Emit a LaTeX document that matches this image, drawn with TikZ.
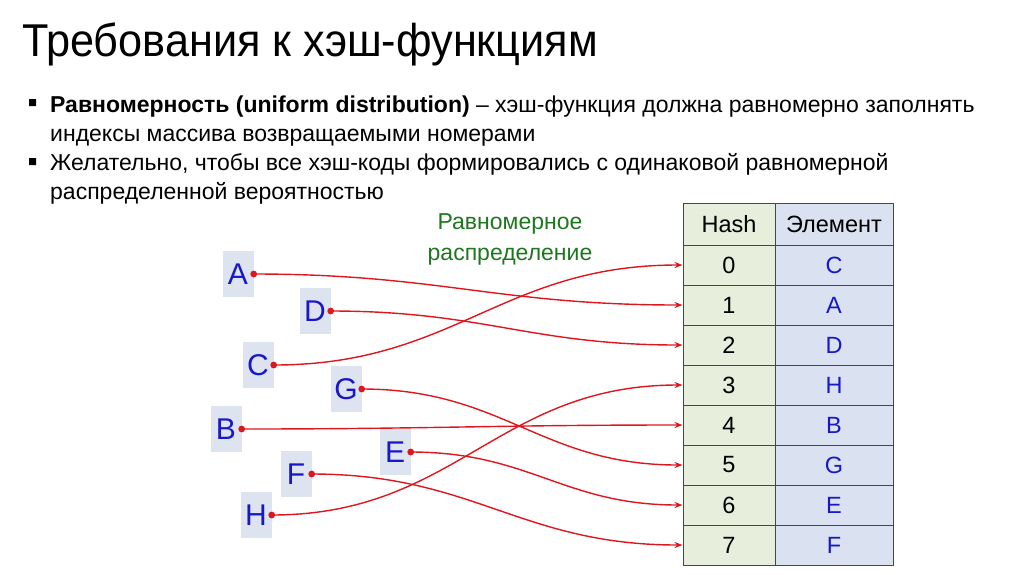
\documentclass[tikz,border=0pt]{standalone}
\usepackage{fontspec}
\setmainfont{Liberation Sans}
\newfontfamily\titlefont[FakeStretch=0.94]{Liberation Sans}
\usetikzlibrary{arrows.meta,positioning}
\definecolor{lnk}{RGB}{222,22,30}
\definecolor{lbl}{RGB}{24,24,200}
\definecolor{lblbg}{RGB}{221,227,239}
\definecolor{grn}{RGB}{30,118,30}
\definecolor{hashbg}{RGB}{231,239,220}
\definecolor{elbg}{RGB}{218,226,242}
\definecolor{grid}{RGB}{70,70,70}
\begin{document}
\begin{tikzpicture}[x=1pt,y=-1pt,line join=round,line cap=round,
	txt/.style={anchor=base west,inner sep=0pt,font=\fontsize{23}{28}\selectfont},
	letter/.style={fill=lblbg,text=lbl,minimum width=31pt,minimum height=46pt,inner sep=0pt,font=\fontsize{30}{30}\selectfont},
	cell/.style={draw=grid,line width=1pt,minimum height=40pt,inner sep=0pt,font=\fontsize{23.5}{23.5}\selectfont},
	link/.style={draw=lnk,line width=1.4pt,-{Stealth[length=8pt,width=6pt]}}]
	\useasboundingbox (0,0) rectangle (1024,574);
	% title and bullets
	\node[anchor=base west,inner sep=0pt,font=\titlefont\fontsize{46}{46}\selectfont] (title) at (22,56) {Требования к хэш-функциям};
	\fill (29,99) rectangle (36,106) (29,158) rectangle (36,165);
	\node[txt] (l1) at (50,112) {\textbf{Равномерность (uniform distribution)} – хэш-функция должна равномерно заполнять};
	\node[txt] (l2) at (50,141) {индексы массива возвращаемыми номерами};
	\node[txt] (l3) at (50,170) {Желательно, чтобы все хэш-коды формировались с одинаковой равномерной};
	\node[txt] (l4) at (50,199) {распределенной вероятностью};
	% table
	\node[cell,fill=hashbg,minimum width=92pt,minimum height=42pt] (hh) at (729,224) {Hash};
	\node[cell,fill=elbg,minimum width=118pt,minimum height=42pt] (eh) at (834,224) {Элемент};
	\foreach \i/\e in {0/C,1/A,2/D,3/H,4/B,5/G,6/E,7/F} {
		\node[cell,fill=hashbg,minimum width=92pt] (h\i) at (729,265+40*\i) {\i};
		\node[cell,fill=elbg,minimum width=118pt,text=lbl] (e\i) at (834,265+40*\i) {\e};
	}
	% keys
	\node[letter] (A) at (238,274) {A};
	\node[letter] (D) at (315,311) {D};
	\node[letter] (C) at (258,365) {C};
	\node[letter] (G) at (346,389) {G};
	\node[letter] (B) at (226,429) {B};
	\node[letter] (E) at (395,452) {E};
	\node[letter] (F) at (296,474) {F};
	\node[letter] (H) at (256,515) {H};
	\node[text=grn,align=center,font=\fontsize{23}{31}\selectfont] (lab) at (510,239) {Равномерное\\распределение};
	\foreach \k/\r in {A/1,D/2,C/0,G/5,B/4,E/6,F/7,H/3} {
		\draw[link] (\k.east) to[out=0,in=180,looseness=1.1] (h\r.west);
		\fill[lnk] (\k.east) circle (3.4pt);
	}
\end{tikzpicture}
\end{document}
